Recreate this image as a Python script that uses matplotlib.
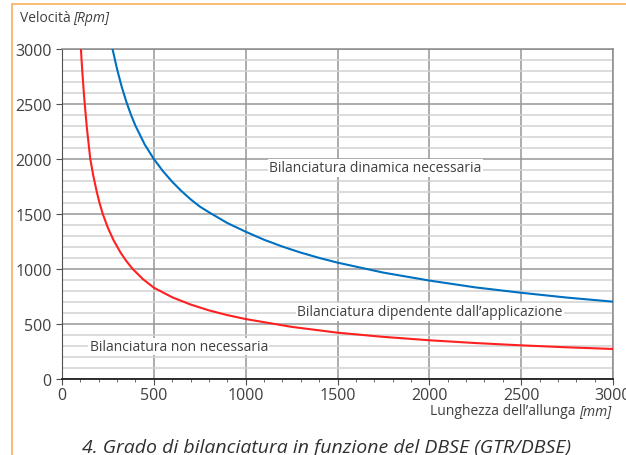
# coding:utf-8
from matplotlib import pyplot as plt
from matplotlib.patches import Rectangle
from matplotlib.ticker import MultipleLocator
import matplotlib

matplotlib.rc("font", family="Open Sans", size=10)

# curva blu: limite bilanciatura dinamica
blu_l = [275, 300, 325, 350, 375, 400, 450, 500, 550, 600, 650, 700, 750, 800, 900, 1000,
         1100, 1200, 1300, 1400, 1500, 1750, 2000, 2250, 2500, 2750, 3000]
blu_v = [3000, 2816, 2657, 2522, 2404, 2302, 2133, 2000, 1889, 1793, 1709, 1634, 1568, 1516,
         1418, 1339, 1266, 1204, 1149, 1101, 1058, 967, 895, 833, 784, 740, 703]

# curva rossa: limite bilanciatura non necessaria
rosso_l = [103, 110, 120, 135, 154, 170, 190, 205, 222, 250, 280, 320, 350, 385, 440,
           500, 600, 700, 800, 900, 1000, 1250, 1500, 1750, 2000, 2250, 2500, 2750, 3000]
rosso_v = [3000, 2809, 2575, 2289, 2000, 1851, 1696, 1597, 1500, 1374, 1264, 1146, 1073,
           1000, 909, 830, 743, 677, 624, 581, 545, 474, 421, 383, 352, 327, 306, 288, 273]

testo = "#404040"

fig = plt.figure(figsize=(6.26, 4.56), dpi=100)
ax = fig.add_axes([62 / 626, 1 - 380 / 456, 551 / 626, 330 / 456])

# cornice arancione
fig.patches.append(Rectangle((12 / 626, -0.1), 1.2, 0.1 + 1 - 5 / 456,
                             transform=fig.transFigure, fill=False,
                             edgecolor="#F9B56A", linewidth=1.3))

ax.plot(blu_l, blu_v, color="#0070C0", linewidth=1.5, zorder=3)
ax.plot(rosso_l, rosso_v, color="#FF2020", linewidth=1.5, zorder=3)

ax.set_xlim(0, 3000)
ax.set_ylim(0, 3000)
ax.xaxis.set_major_locator(MultipleLocator(500))
ax.xaxis.set_minor_locator(MultipleLocator(100))
ax.yaxis.set_major_locator(MultipleLocator(500))
ax.yaxis.set_minor_locator(MultipleLocator(100))

# griglia
ax.grid(which="major", axis="both", color="#969696", linewidth=1.1)
ax.grid(which="minor", axis="y", color="#d2d2d2", linewidth=1.1)
ax.set_axisbelow(True)

for s in ["top", "right"]:
    ax.spines[s].set_color("#8a8a8a")
    ax.spines[s].set_linewidth(1.1)
ax.spines["left"].set_color("#505050")
ax.spines["bottom"].set_color("#202020")
ax.spines["bottom"].set_linewidth(1.3)
ax.tick_params(axis="both", which="major", direction="out", length=4,
               color="#505050", labelcolor=testo, labelsize=11.5)
ax.tick_params(axis="x", which="minor", direction="out", length=2, color="#505050")
ax.tick_params(axis="y", which="minor", length=0)
ax.tick_params(axis="x", which="major", pad=2)

# testi nelle zone
bg = dict(facecolor="white", edgecolor="none", pad=1)
ax.text(1127, 1920, "Bilanciatura dinamica necessaria", color=testo,
        va="center", bbox=bg, zorder=2)
ax.text(1280, 610, "Bilanciatura dipendente dall\u2019applicazione", color=testo,
        va="center", bbox=bg, zorder=2)
ax.text(150, 295, "Bilanciatura non necessaria", color=testo,
        va="center", bbox=bg, zorder=2)

# etichette assi
fig.text(20 / 626, 1 - 18 / 456, "Velocità", color=testo, va="center")
fig.text(73 / 626, 1 - 18 / 456, "[Rpm]", color=testo, va="center", style="italic")

r = fig.canvas.get_renderer()
mm = fig.text(611 / 626, 1 - 412 / 456, "[mm]", color=testo, va="center",
              ha="right", style="italic")
w = mm.get_window_extent(r).width
fig.text((611 - w - 3) / 626, 1 - 412 / 456, "Lunghezza dell\u2019allunga", color=testo,
         va="center", ha="right")

# didascalia
fig.text(327 / 626, 1 - 448 / 456, "4. Grado di bilanciatura in funzione del DBSE (GTR/DBSE)",
         color="#303030", fontsize=14, style="italic", ha="center", va="center")

plt.savefig("out.png", dpi=100)
